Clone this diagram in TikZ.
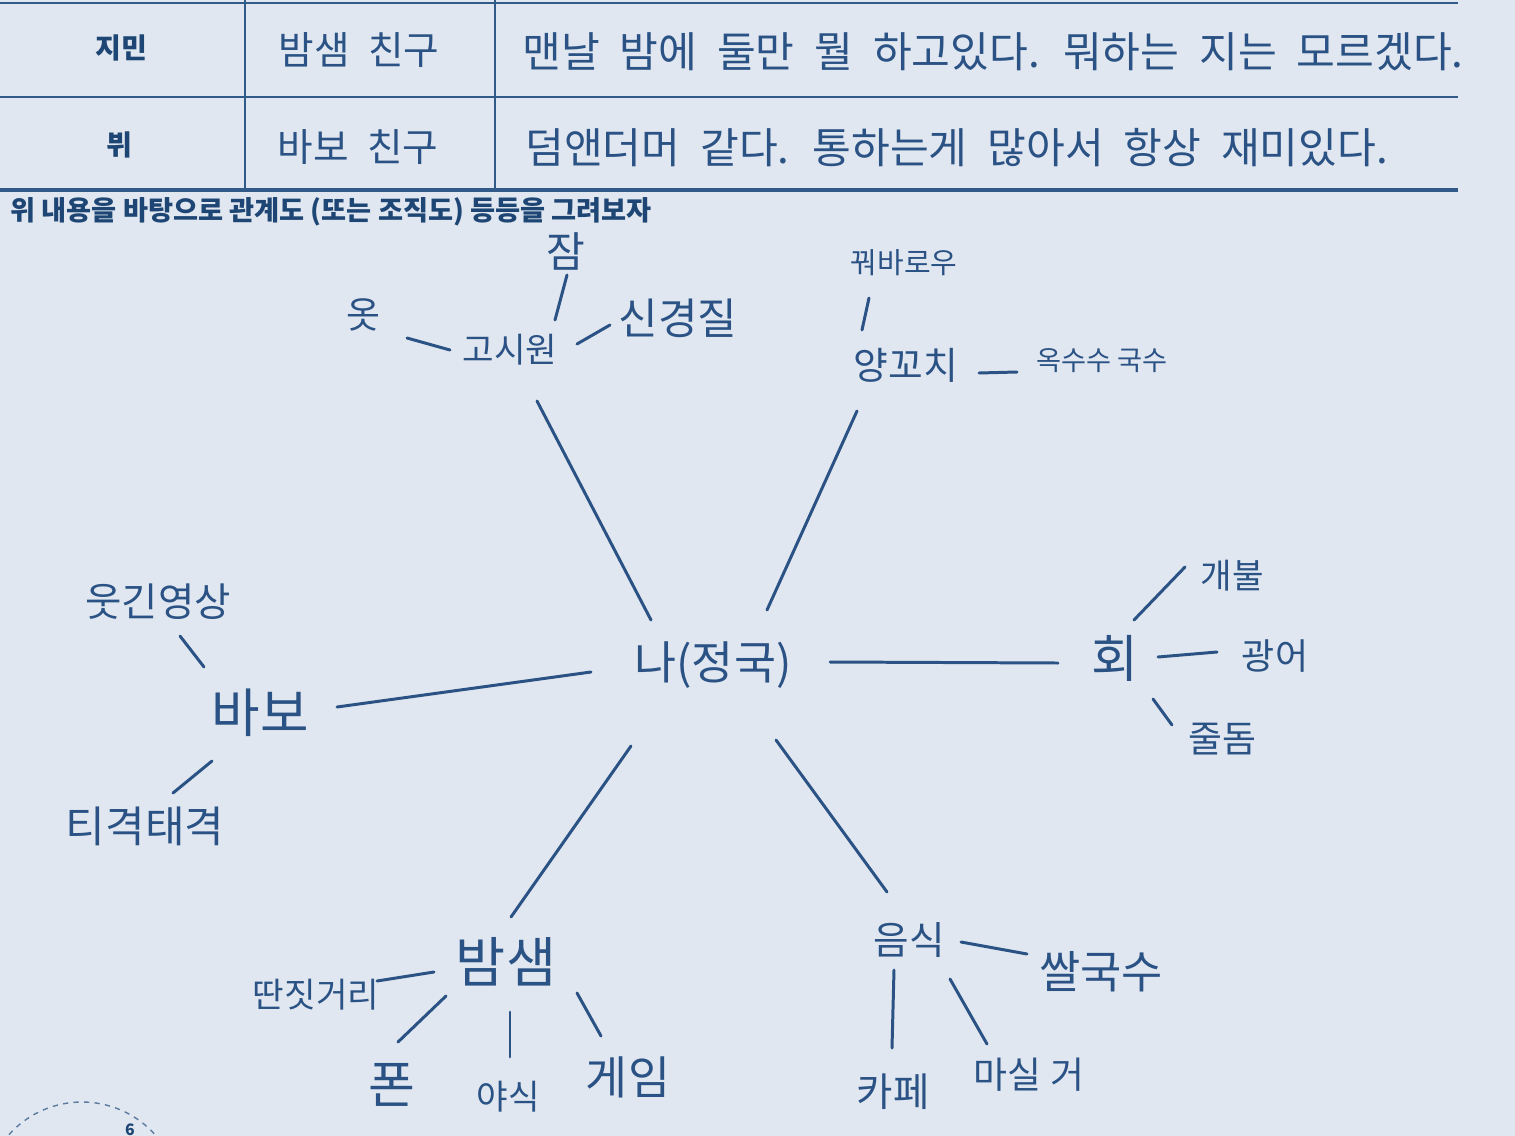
\documentclass[tikz,border=0pt]{standalone}
\usepackage{fontspec}
\setmainfont{Noto Sans CJK KR}
\definecolor{paper}{RGB}{225,231,240}
\definecolor{ink}{RGB}{42,82,132}
\definecolor{rule}{RGB}{50,90,136}
\definecolor{head}{RGB}{30,70,116}
\newcommand{\fsz}[1]{\fontsize{#1}{#1}\selectfont}
\newcommand{\widesp}{\spaceskip=0.47em\relax}
\tikzset{
  word/.style={text=ink, inner sep=0pt},
  link/.style={draw=ink, line width=1.7pt, line cap=round},
  tabline/.style={draw=rule, line width=1.6pt}
}

\begin{document}
\begin{tikzpicture}[x=0.02cm, y=-0.02cm]
  \fill[paper] (0,0) rectangle (1515,1136);
  \useasboundingbox (0,0) rectangle (1515,1136);

  % table
  \draw[tabline] (0,3) -- (1458,3);
  \draw[tabline] (0,97) -- (1458,97);
  \draw[tabline, line width=2.2pt] (0,190) -- (1458,190);
  \draw[tabline] (245,0) -- (245,190);
  \draw[tabline] (495,0) -- (495,190);
  \node[text=head, font=\fsz{16}\bfseries] (jimin) at (121,48) {지민};
  \node[text=head, font=\fsz{16}\bfseries] (v) at (119,145) {뷔};
  \node[word, font=\fsz{22}\widesp] (jiminrole) at (359,50) {밤샘 친구};
  \node[word, font=\fsz{22}\widesp] (vrole) at (358,147) {바보 친구};
  \node[word, font=\fsz{24}\widesp, anchor=west] (jimintext) at (522,52) {맨날 밤에 둘만 뭘 하고있다. 뭐하는 지는 모르겠다.};
  \node[word, font=\fsz{24}\widesp, anchor=west] (vtext) at (525,148) {덤앤더머 같다. 통하는게 많아서 항상 재미있다.};
  \node[text=head, font=\fsz{15.5}\bfseries, anchor=west, inner sep=0pt] (title) at (10,212) {위 내용을 바탕으로 관계도 (또는 조직도) 등등을 그려보자};

  % map
  \node[word, font=\fsz{26}] (hub) at (713,665) {나(정국)};

  \node[word, font=\fsz{19.5}] (gosi) at (510,350) {고시원};
  \node[word, font=\fsz{21}] (ot) at (363,315) {옷};
  \node[word, font=\fsz{24}] (jam) at (566,251) {잠};
  \node[word, font=\fsz{24.5}] (temper) at (678,318) {신경질};

  \node[word, font=\fsz{21.5}] (yang) at (906,365) {양꼬치};
  \node[word, font=\fsz{16.5}] (kkwo) at (904,263) {꿔바로우};
  \node[word, font=\fsz{15.5}] (noodle) at (1102,361) {옥수수 국수};

  \node[word, font=\fsz{29}] (hoe) at (1115,658) {회};
  \node[word, font=\fsz{19.5}] (gaebul) at (1232,576) {개불};
  \node[word, font=\fsz{20.5}] (gwang) at (1275,656) {광어};
  \node[word, font=\fsz{21}] (juldom) at (1222,739) {줄돔};

  \node[word, font=\fsz{30}] (babo) at (260,713) {바보};
  \node[word, font=\fsz{22.5}] (funny) at (158,602) {웃긴영상};
  \node[word, font=\fsz{24.5}] (bicker) at (145,826) {티격태격};

  \node[word, font=\fsz{31}] (bam) at (506,962) {밤샘};
  \node[word, font=\fsz{19.5}] (ttan) at (316,995) {딴짓거리};
  \node[word, font=\fsz{29}] (phone) at (392,1085) {폰};
  \node[word, font=\fsz{19.5}] (yasik) at (508,1097) {야식};
  \node[word, font=\fsz{26}] (game) at (628,1077) {게임};

  \node[word, font=\fsz{22}] (food) at (909,940) {음식};
  \node[word, font=\fsz{25.5}] (ssal) at (1101,972) {쌀국수};
  \node[word, font=\fsz{22.5}] (cafe) at (893,1092) {카페};
  \node[word, font=\fsz{21}] (drink) at (1029,1075) {마실 거};

  % spokes
  \draw[link] ([shift={(-62,-45)}]hub.center) -- ([shift={(27,51)}]gosi.center);
  \draw[link] ([shift={(54,-55)}]hub.center) -- ([shift={(-49,46)}]yang.center);
  \draw[link] ([shift={(117,-3)}]hub.center) -- ([shift={(-57,5)}]hoe.center);
  \draw[link] ([shift={(-122,7)}]hub.center) -- ([shift={(77,-6)}]babo.center);
  \draw[link] ([shift={(-82,81)}]hub.center) -- ([shift={(5,-45)}]bam.center);
  \draw[link] ([shift={(63,75)}]hub.center) -- ([shift={(-22,-48)}]food.center);

  \draw[link] ([shift={(-60,0)}]gosi.center) -- ([shift={(44,23)}]ot.center);
  \draw[link] ([shift={(45,-30)}]gosi.center) -- ([shift={(1,24)}]jam.center);
  \draw[link] ([shift={(67,-6)}]gosi.center) -- ([shift={(-68,7)}]temper.center);

  \draw[link] ([shift={(-44,-35)}]yang.center) -- ([shift={(-35,35)}]kkwo.center);
  \draw[link] ([shift={(73,8)}]yang.center) -- ([shift={(-85,11)}]noodle.center);

  \draw[link] ([shift={(19,-38)}]hoe.center) -- ([shift={(-47,-9)}]gaebul.center);
  \draw[link] ([shift={(43,-1)}]hoe.center) -- ([shift={(-58,-4)}]gwang.center);
  \draw[link] ([shift={(38,41)}]hoe.center) -- ([shift={(-50,-14)}]juldom.center);

  \draw[link] ([shift={(-56,-46)}]babo.center) -- ([shift={(22,34)}]funny.center);
  \draw[link] ([shift={(-48,48)}]babo.center) -- ([shift={(28,-33)}]bicker.center);

  \draw[link] ([shift={(-72,10)}]bam.center) -- ([shift={(61,-14)}]ttan.center);
  \draw[link] ([shift={(-60,34)}]bam.center) -- ([shift={(6,-43)}]phone.center);
  \draw[link] ([shift={(4,50)}]bam.center) -- ([shift={(2,-40)}]yasik.center);
  \draw[link] ([shift={(71,31)}]bam.center) -- ([shift={(-27,-41)}]game.center);

  \draw[link] ([shift={(52,2)}]food.center) -- ([shift={(-74,-18)}]ssal.center);
  \draw[link] ([shift={(-15,30)}]food.center) -- ([shift={(-1,-44)}]cafe.center);
  \draw[link] ([shift={(41,39)}]food.center) -- ([shift={(-42,-31)}]drink.center);

  % page mark
  \draw[rule!80, dashed, line width=0.8pt] (82,1200) circle (98);
  \node[text=head, font=\fsz{9}\bfseries, anchor=north, inner sep=0pt] (page) at (130,1123) {6};
\end{tikzpicture}
\end{document}
